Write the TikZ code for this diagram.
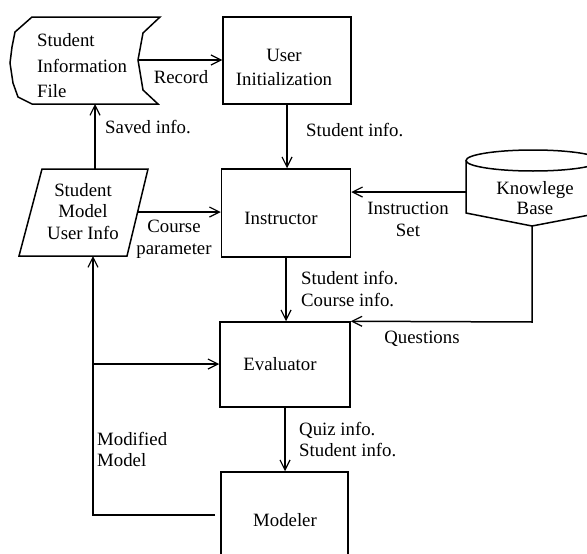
\documentclass[tikz,border=0pt]{standalone}
\usepackage{fontspec}
\setmainfont{Liberation Serif}
\usetikzlibrary{arrows.meta}
\begin{document}
\begin{tikzpicture}[x=1pt,y=-1pt,
  every node/.style={font=\fontsize{18.8}{22}\selectfont, inner sep=0pt},
  box/.style={draw, line width=1.5pt},
  flow/.style={draw, line width=1.5pt, -{Straight Barb[length=10pt,width=10pt,line width=1.2pt]}},
  lbl/.style={align=left, anchor=west},
  clbl/.style={align=center},
  ]
\path[use as bounding box, clip] (0,0) rectangle (587,554);

% process boxes
\node[box, minimum width=128pt, minimum height=87pt] (init) at (287,60.5) {};
\node[clbl, font=\fontsize{18.8}{24}\selectfont] (initT) at (284,67) {User\\Initialization};
\node[box, minimum width=129pt, minimum height=88pt] (instr) at (286,213) {};
\node (instrT) at (281,218) {Instructor};
\node[box, minimum width=130pt, minimum height=85pt] (eval) at (285,364.5) {};
\node (evalT) at (280,364) {Evaluator};
\node[box, minimum width=127pt, minimum height=100pt] (mod) at (284.5,522) {};
\node (modT) at (285,520) {Modeler};

% stored student information file
\draw[box] (32,17) -- (160,17) -- (143,33) -- (138,60) -- (143,90) -- (158,104)
  -- (32,104) -- (18,97) -- (13,83) -- (10,63) -- (12,47) -- (15,32) -- cycle;
\node[lbl, font=\fontsize{18.8}{25.5}\selectfont] (sif) at (37,66) {Student\\Information\\File};
\coordinate (sifE) at (138,60);
\coordinate (sifS) at (95,104);

% student model (data)
\draw[box] (42,169) -- (148,169) -- (127,256) -- (19,256) -- cycle;
\node[clbl, font=\fontsize{18.8}{21.5}\selectfont] (sm) at (83,211.5) {Student\\Model\\User Info};
\coordinate (smN) at (95,169);
\coordinate (smE) at (138,212);
\coordinate (smS) at (93,256);

% knowledge base (database)
\draw[box] (466,160.5) -- (466,213) -- (532,226) -- (600,213) -- (600,160.5);
\draw[box] (533,160.5) ellipse [x radius=67pt, y radius=10.5pt];
\node[clbl, font=\fontsize{18.8}{20}\selectfont] (kb) at (535,198) {Knowlege\\Base};
\coordinate (kbW) at (466,192);
\coordinate (kbS) at (532,226);

% helper points for the feedback loop
\coordinate (modW) at (215,515);
\coordinate (loopB) at (93,515);
\coordinate (fork) at (93,364);
\coordinate (qTurn) at (532,322);

% connectors
\draw[flow] (sifE) -- (sifE -| init.west);
\draw[flow] (init.south) -- (init.south |- instr.north);
\draw[flow] (smN) -- (sifS);
\draw[flow] (smE) -- (smE -| instr.west);
\draw[flow] (kbW) -- (kbW -| instr.east);
\draw[flow] (instr.south) -- (instr.south |- eval.north);
\draw[flow] (kbS) -- (qTurn) -- (eval.north east);
\draw[flow] (eval.south) -- (eval.south |- mod.north);
\draw[flow] (modW) -- (loopB) -- (smS);
\draw[flow] (fork) -- (fork -| eval.west);

% connector labels
\node (lRec) at (181,77) {Record};
\node[lbl] (lSaved) at (105,127) {Saved info.};
\node[lbl] (lStu1) at (306,130) {Student info.};
\node[clbl] (lCourse) at (174,239) {Course\\parameter};
\node[clbl] (lIset) at (408,219) {Instruction\\Set};
\node[lbl] (lStu2) at (301,289) {Student info.\\Course info.};
\node (lQ) at (422,339) {Questions};
\node[lbl, font=\fontsize{18.8}{21}\selectfont] (lQuiz) at (299,440) {Quiz info.\\Student info.};
\node[lbl, font=\fontsize{18.8}{21}\selectfont] (lMod) at (97,449.5) {Modified\\Model};
\end{tikzpicture}
\end{document}
